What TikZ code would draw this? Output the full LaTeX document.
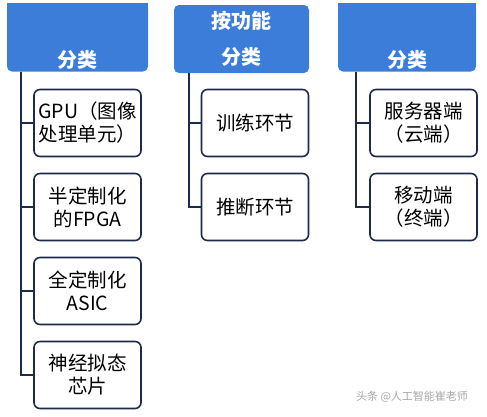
\documentclass[tikz,border=0pt]{standalone}
\usepackage{fontspec}
\setmainfont{Noto Sans CJK SC}
\usetikzlibrary{calc}
\definecolor{headblue}{HTML}{3B7DD8}
\definecolor{navy}{HTML}{1C2B4C}
\tikzset{
  head box/.style={
    fill=headblue,
    rounded corners=5pt,
    minimum height=68pt,
    inner sep=0pt,
    align=center,
    text=white,
    font=\fontsize{20}{36}\selectfont\bfseries
  },
  leaf box/.style={
    draw=navy,
    line width=1.6pt,
    fill=white,
    rounded corners=6pt,
    minimum width=107pt,
    minimum height=67pt,
    inner sep=0pt,
    align=center,
    font=\fontsize{19.5}{23}\selectfont
  },
  branch/.style={
    draw=navy,
    line width=2.4pt
  },
  mark text/.style={
    text=gray!70,
    font=\fontsize{11}{13}\selectfont
  }
}

\begin{document}
\begin{tikzpicture}[x=1pt, y=-1pt]
    \useasboundingbox (0, 0) rectangle (487, 416);

    % 1. 三个分类标题
    \node[head box, minimum width=141pt] (h1) at (77.5, 37.5) {\strut\\分类};
    \node[head box, minimum width=135pt] (h2) at (241.5, 39) {按功能\\分类};
    \node[head box, minimum width=138pt] (h3) at (407, 37.5) {\strut\\分类};
    % 上沿被截去, 顶角为直角
    \fill[headblue] (h1.north west) rectangle (h1.east);
    \fill[headblue] (h3.north west) rectangle (h3.east);

    % 2. 第一列: 芯片类型
    \foreach \txt [count=\i] in {{GPU（图像\\处理单元）}, {半定制化\\的FPGA},
                                 {全定制化\\ASIC}, {神经拟态\\芯片}}{
      \node[leaf box] (c1\i) at (87.5, {123 + 84*(\i-1)}) {\txt};
    }

    % 3. 第二列: 按功能
    \node[leaf box] (c21) at (255, 123) {训练环节};
    \node[leaf box] (c22) at (255, 207) {推断环节};

    % 4. 第三列: 部署位置
    \node[leaf box] (c31) at (423.5, 123) {服务器端\\（云端）};
    \node[leaf box] (c32) at (423.5, 207) {移动端\\（终端）};

    % 5. 连线
    \coordinate (t1) at ($(h1.south west)+(14, 0)$);
    \coordinate (t2) at ($(h2.south west)+(15, 0)$);
    \coordinate (t3) at ($(h3.south west)+(18, 0)$);
    \foreach \i in {1, 2, 3, 4}{
      \draw[branch] (t1) |- (c1\i.west);
    }
    \foreach \i in {1, 2}{
      \draw[branch] (t2) |- (c2\i.west);
      \draw[branch] (t3) |- (c3\i.west);
    }

    % 6. 水印
    \node[mark text] (wm) at (412, 397) {头条 @人工智能崔老师};
\end{tikzpicture}
\end{document}
